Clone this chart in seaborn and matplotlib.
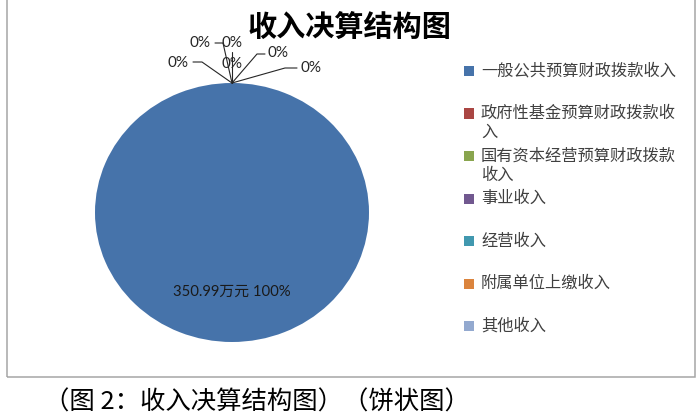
import numpy as np
import pandas as pd
import matplotlib
matplotlib.use("Agg")
import matplotlib.pyplot as plt
import seaborn as sns
from matplotlib.patches import Rectangle
from matplotlib.lines import Line2D

# ---- data ----
categories = ["一般公共预算财政拨款收入", "政府性基金预算财政拨款收入",
              "国有资本经营预算财政拨款收入", "事业收入", "经营收入",
              "附属单位上缴收入", "其他收入"]
values = [350.99, 0, 0, 0, 0, 0, 0]
unit = "万元"
title = "收入决算结构图"
caption = "（图 2：收入决算结构图）（饼状图）"
colors = ["#4673AA", "#AA4643", "#89A54E", "#71588F", "#4198AF", "#DB843D", "#93A9CF"]

sns.set_theme(style="white")
plt.rcParams['font.family'] = ['Noto Sans CJK SC', 'DejaVu Sans']
num_family = ['Lato', 'Noto Sans CJK SC', 'DejaVu Sans']

W, H = 700, 420
fig = plt.figure(figsize=(W / 100, H / 100), dpi=100)
fig.patch.set_facecolor("white")


def fx(px):
    return px / W


def fy(py):
    return 1 - py / H


# chart frame
fig.add_artist(Rectangle((fx(7), fy(377)), fx(695) - fx(7), 1.05 - fy(377),
                         transform=fig.transFigure, fill=False,
                         edgecolor="#A6A6A6", linewidth=1.1, clip_on=False))

# pie
df = pd.DataFrame({"category": categories, "value": values})
ax = fig.add_axes([fx(95), fy(342), (369 - 95) / W, (342 - 83) / H])
wedges, _ = ax.pie(df["value"], colors=colors, startangle=90,
                   counterclock=False, radius=1,
                   wedgeprops=dict(linewidth=0))
ax.set_aspect('auto')
ax.set_xlim(-1, 1)
ax.set_ylim(-1, 1)
ax.axis('off')

total = df["value"].sum()
pcts = df["value"] / total * 100

# label layout for the zero slices (pixel offsets from the slice point)
zero_layout = [
    ((-32, 40), [(0, 0), (-9, 40), (-17, 40)]),
    ((0, 40), [(0, 0), (0, 31)]),
    ((0, 19), None),
    ((-54, 20), [(0, 0), (-30, 21), (-39, 21)]),
    ((46, 30), [(0, 0), (25, 29), (33, 29)]),
    ((79, 15), [(0, 0), (53, 15), (65, 15)]),
]

zi = 0
inv = fig.transFigure.inverted()
for w, v, p in zip(wedges, df["value"], pcts):
    if v > 0:
        mid = np.deg2rad((w.theta1 + w.theta2) / 2)
        ax.text(0.61 * np.cos(mid), 0.61 * np.sin(mid),
                f"{v:.2f}{unit} {p:.0f}%", ha='center', va='center',
                fontsize=10.7, color='#1A1A1A', family=num_family)
    else:
        th = np.deg2rad(w.theta1)
        disp = ax.transData.transform((np.cos(th), np.sin(th)))
        axf, ayf = inv.transform(disp)
        (tdx, tdy), path = zero_layout[zi % len(zero_layout)]
        zi += 1
        if path is not None:
            xs = [axf + dx / W for dx, dy in path]
            ys = [ayf + dy / H for dx, dy in path]
            fig.add_artist(Line2D(xs, ys, color='#262626', linewidth=0.8,
                                  transform=fig.transFigure))
        fig.text(axf + tdx / W, ayf + tdy / H, f"{p:.0f}%", ha='center',
                 va='center', fontsize=11, color='#262626', family=num_family)

# legend
for i, (cat, col) in enumerate(zip(categories, colors)):
    yc = 71 + i * 42.5
    fig.add_artist(Rectangle((fx(464), fy(yc + 5)), 10 / W, 10 / H,
                             transform=fig.transFigure, facecolor=col,
                             edgecolor='none'))
    lines = [cat[j:j + 12] for j in range(0, len(cat), 12)]
    for k, ln in enumerate(lines):
        fig.text(fx(481), fy(yc + k * 19), ln, ha='left', va='center',
                 fontsize=11.7, color='#404040')

# title and caption
fig.text(fx(350), fy(27), title, ha='center', va='center', fontsize=21,
         fontweight='bold', color='black')
fig.text(fx(257), fy(403), caption, ha='center', va='center', fontsize=18.3,
         color='black')

fig.savefig("out.png", dpi=100, facecolor="white")
